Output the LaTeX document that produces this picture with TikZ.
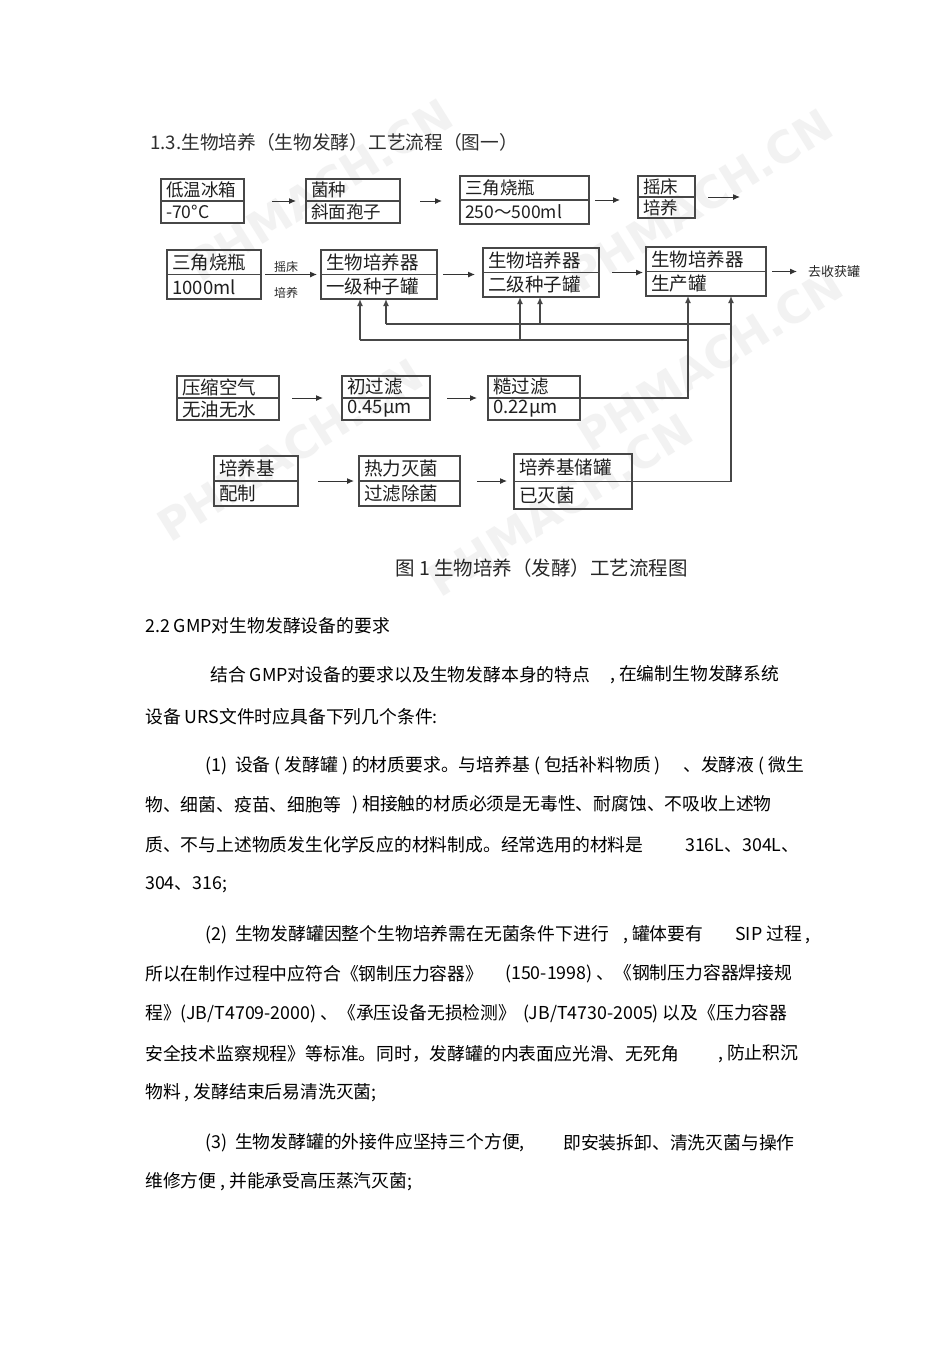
\documentclass[tikz,border=0pt]{standalone}
\usepackage{fontspec}
\setmainfont{Noto Sans CJK SC}
\newfontfamily\wmfont{DejaVu Sans}
\usetikzlibrary{arrows.meta}
\def\boxfs{17.5}
\newcommand\twobox[7]{%
  \node[box, minimum width={#4-#2}, minimum height={#5-#3}] (#1) at ({(#2+#4)/2},{(#3+#5)/2}) {};
  \draw[box] (#1.west) -- (#1.east);
  \node[lbl] (#1t) at ({#2+5},{#3+(#5-#3)/4}) {#6};
  \node[lbl] (#1b) at ({#2+5},{#3+3*(#5-#3)/4}) {#7};
}
\begin{document}
\begin{tikzpicture}[x=1pt,y=-1pt,
  box/.style={draw=black!72, line width=1.5pt, inner sep=0pt, outer sep=0pt},
  lbl/.style={anchor=west, inner sep=0pt, font=\fontsize{\boxfs}{\boxfs}\selectfont, text=black!88},
  small/.style={inner sep=0pt, font=\fontsize{12}{12}\selectfont, text=black!85},
  arr/.style={draw=black!80, line width=1pt, -{Latex[length=7pt,width=6pt]}},
  wire/.style={draw=black!72, line width=1.6pt},
  tip/.style={-{Latex[length=7pt,width=6pt]}},
  body/.style={anchor=west, inner sep=0pt, font=\fontsize{17.8}{18}\selectfont, text=black},
  wm/.style={font=\wmfont\bfseries\fontsize{44}{44}\selectfont, text=black!5, rotate=32}
]
\useasboundingbox[fill=white] (0,0) rectangle (950,1345);

% watermarks
\node[wm] (w1) at (320,190) {PHMACH.CN};
\node[wm] (w2) at (700,200) {PHMACH.CN};
\node[wm] (w3) at (710,360) {PHMACH.CN};
\node[wm] (w4) at (290,450) {PHMACH.CN};
\node[wm] (w5) at (560,505) {PHMACH.CN};

% title
\node[anchor=west, inner sep=0pt, font=\fontsize{18.7}{19}\selectfont, text=black!82] (title) at (150,142) {1.3.生物培养（生物发酵）工艺流程（图一）};

% row 1
\twobox{A}{161}{179}{244}{223}{低温冰箱}{-70°C}
\twobox{B}{306}{179}{400}{223}{菌种}{斜面孢子}
\twobox{C}{460}{176}{589}{224}{三角烧瓶}{250～500ml}
\twobox{D}{638}{176}{695}{218}{摇床}{培养}
\coordinate (Dout) at (740,197);
\draw[arr, shorten <=28pt, shorten >=10pt] (A.east) -- (B.west);
\draw[arr, shorten <=20pt, shorten >=18pt] (B.east) -- (B.east -| C.west);
\draw[arr, shorten <=6pt, shorten >=18pt] (C.east) -- (C.east -| D.west);
\draw[arr, shorten <=13pt] (D.east) -- (Dout);

\def\boxfs{18.5}
% row 2
\twobox{E}{167}{250}{261}{299}{三角烧瓶}{1000ml}
\twobox{F}{321}{250}{437}{299}{生物培养器}{一级种子罐}
\twobox{G}{483}{248}{599}{297}{生物培养器}{二级种子罐}
\twobox{H}{646}{247}{766}{296}{生物培养器}{生产罐}
\draw[arr, shorten <=4pt, shorten >=4pt] (E.east) -- (F.west);
\node[small] (shake) at (286,267) {摇床};
\node[small] (cult) at (286,293) {培养};
\draw[arr, shorten <=6pt, shorten >=8pt] (F.east) -- (F.east -| G.west);
\draw[arr, shorten <=13pt, shorten >=3pt] (G.east) -- (G.east -| H.west);
\coordinate (Hout) at (797,271.5);
\draw[arr, shorten <=6pt] (H.east) -- (Hout);
\node[small, anchor=west, font=\fontsize{13}{13}\selectfont] (harvest) at (808,272) {去收获罐};

% row 3
\twobox{I}{177}{376}{279}{420}{压缩空气}{无油无水}
\twobox{J}{342}{376}{430}{420}{初过滤}{0.45μm}
\twobox{K}{488}{376}{580}{420}{糙过滤}{0.22μm}
\draw[arr, shorten <=13pt, shorten >=19pt] (I.east) -- (J.west);
\draw[arr, shorten <=17pt, shorten >=11pt] (J.east) -- (K.west);

% row 4
\twobox{L}{214}{456}{298}{506}{培养基}{配制}
\twobox{M}{359}{456}{460}{506}{热力灭菌}{过滤除菌}
\twobox{N}{514}{454}{632}{509}{培养基储罐}{已灭菌}
\draw[arr, shorten <=20pt, shorten >=5pt] (L.east) -- (M.west);
\draw[arr, shorten <=17pt, shorten >=7pt] (M.east) -- (M.east -| N.west);

% feed network
\coordinate (fL) at (360,299);
\coordinate (fR) at (386,299);
\coordinate (gL) at (520,297);
\coordinate (gR) at (540,297);
\coordinate (hL) at (688,296);
\coordinate (hR) at (731,296);
\coordinate (lo) at (0,340);
\coordinate (up) at (0,324);
\draw[wire, tip] (K.east) -| (hL);
\draw[wire] (fL |- lo) -- (hL |- lo);
\draw[wire, tip] (fL |- lo) -- (fL);
\draw[wire, tip] (gL |- lo) -- (gL);
\draw[wire, tip] (N.east) -| (hR);
\draw[wire] (fR |- up) -- (hR |- up);
\draw[wire, tip] (fR |- up) -- (fR);
\draw[wire, tip] (gR |- up) -- (gR);

% caption
\node[anchor=west, inner sep=0pt, font=\fontsize{19.5}{20}\selectfont, text=black!85] (cap) at (395,568) {图 1 生物培养（发酵）工艺流程图};

% body text
\node[body] (t1) at (145,626) {2.2 GMP对生物发酵设备的要求};
\node[body] (t2a) at (210,675) {结合 GMP对设备的要求以及生物发酵本身的特点};
\node[body] (t2b) at (610,675) {, 在编制生物发酵系统};
\node[body] (t3) at (145,717) {设备 URS文件时应具备下列几个条件:};
\node[body] (t4a) at (205,766) {(1)\ \ 设备 ( 发酵罐 ) 的材质要求。与培养基 ( 包括补料物质 )};
\node[body] (t4b) at (683,766) {、发酵液 ( 微生};
\node[body] (t5a) at (145,805) {物、细菌、疫苗、细胞等};
\node[body] (t5b) at (352,805) {) 相接触的材质必须是无毒性、耐腐蚀、不吸收上述物};
\node[body] (t6a) at (145,845) {质、不与上述物质发生化学反应的材料制成。经常选用的材料是};
\node[body] (t6b) at (685,845) {316L、304L、};
\node[body] (t7) at (145,885) {304、316;};
\node[body] (t8a) at (205,935) {(2)\ \ 生物发酵罐因整个生物培养需在无菌条件下进行};
\node[body] (t8b) at (623,935) {, 罐体要有};
\node[body] (t8c) at (735,935) {SIP 过程 ,};
\node[body] (t9a) at (145,974) {所以在制作过程中应符合《钢制压力容器》};
\node[body] (t9b) at (505,974) {(150-1998) 、《钢制压力容器焊接规};
\node[body] (t10a) at (145,1014) {程》(JB/T4709-2000) 、《承压设备无损检测》};
\node[body] (t10b) at (523,1014) {(JB/T4730-2005) 以及《压力容器};
\node[body] (t11a) at (145,1054) {安全技术监察规程》等标准。同时，发酵罐的内表面应光滑、无死角};
\node[body] (t11b) at (718,1054) {, 防止积沉};
\node[body] (t12) at (145,1093) {物料 , 发酵结束后易清洗灭菌;};
\node[body] (t13a) at (205,1143) {(3)\ \ 生物发酵罐的外接件应坚持三个方便,};
\node[body] (t13b) at (563,1143) {即安装拆卸、清洗灭菌与操作};
\node[body] (t14) at (145,1182) {维修方便 , 并能承受高压蒸汽灭菌;};
\end{tikzpicture}
\end{document}
